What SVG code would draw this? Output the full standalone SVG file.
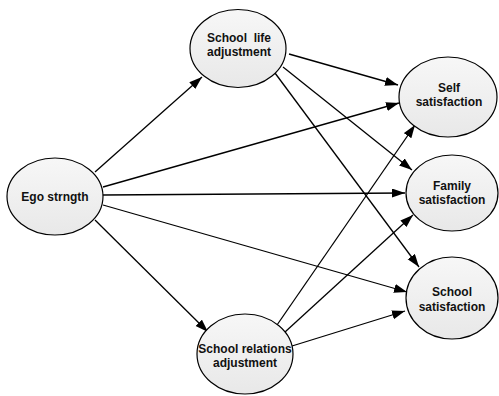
<svg xmlns="http://www.w3.org/2000/svg" width="499" height="396" viewBox="0 0 499 396">
<style>
.node ellipse{fill:url(#g);stroke:#000;stroke-width:1.2}
.node text{font-family:"Liberation Sans",Arial,sans-serif;font-size:12px;font-weight:bold;text-anchor:middle;fill:#111;white-space:pre}
.edges line{stroke:#000;stroke-width:1.3;marker-end:url(#arr)}
</style>
<defs>
<linearGradient id="g" x1="0" y1="0" x2="0" y2="1">
<stop offset="0" stop-color="#f7f7f7"/>
<stop offset="1" stop-color="#e8e8e8"/>
</linearGradient>
<marker id="arr" markerUnits="userSpaceOnUse" markerWidth="14" markerHeight="10" refX="13" refY="4.5" orient="auto">
<path d="M0,0 L13,4.5 L0,9 Z" fill="#000"/>
</marker>
</defs>
<rect width="499" height="396" fill="#fff"/>
<g class="edges">
<line x1="95" y1="172" x2="202" y2="77"/>
<line x1="103" y1="187" x2="399" y2="103"/>
<line x1="103" y1="195" x2="405" y2="193"/>
<line x1="103" y1="205" x2="407" y2="292"/>
<line x1="95" y1="220" x2="208" y2="332"/>
<line x1="289" y1="54" x2="398" y2="85"/>
<line x1="283" y1="67" x2="412" y2="170"/>
<line x1="275" y1="73" x2="419" y2="267"/>
<line x1="277" y1="325" x2="415" y2="125"/>
<line x1="285" y1="332" x2="413" y2="215"/>
<line x1="292" y1="346" x2="405" y2="311"/>
</g>
<g id="ego" class="node">
<ellipse cx="55" cy="196.5" rx="48" ry="38.5"/>
<text x="55" y="201">Ego strngth</text>
</g>
<g id="school-life" class="node">
<ellipse cx="238" cy="48.5" rx="48" ry="39"/>
<text x="239" y="42">School  life</text>
<text x="239" y="56">adjustment</text>
</g>
<g id="school-relations" class="node">
<ellipse cx="245" cy="354" rx="48" ry="40"/>
<text x="245" y="353">School relations</text>
<text x="245" y="367">adjustment</text>
</g>
<g id="self" class="node">
<ellipse cx="448" cy="97" rx="49" ry="40"/>
<text x="449" y="92">Self</text>
<text x="449" y="106">satisfaction</text>
</g>
<g id="family" class="node">
<ellipse cx="452" cy="193" rx="46" ry="38"/>
<text x="452" y="190">Family</text>
<text x="452" y="204">satisfaction</text>
</g>
<g id="school-sat" class="node">
<ellipse cx="452" cy="298" rx="46" ry="41"/>
<text x="452" y="296">School</text>
<text x="452" y="311">satisfaction</text>
</g>
</svg>
